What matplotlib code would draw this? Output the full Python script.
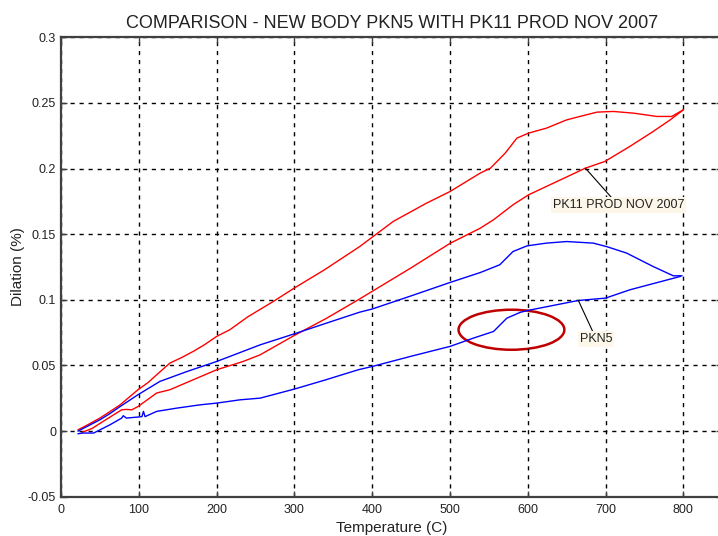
import matplotlib
matplotlib.use("Agg")
import matplotlib.pyplot as plt
from matplotlib.patches import Ellipse

plt.rcParams['font.family'] = ['Liberation Sans', 'DejaVu Sans']

# PK11 PROD NOV 2007 - heating branch (upper red)
pk11_heat_T = [22, 35, 50, 62, 76, 88, 99, 112, 123, 140, 155, 170, 185, 200, 217, 240, 273, 300,
               339, 384, 427, 470, 500, 539, 552, 571, 586, 601, 624, 650, 667, 689, 710, 736,
               766, 785, 800]
pk11_heat_D = [0.001, 0.005, 0.0099, 0.0145, 0.020, 0.026, 0.0315, 0.037, 0.0429, 0.0518, 0.056,
               0.0607, 0.066, 0.0721, 0.0772, 0.087, 0.0988, 0.109, 0.123, 0.1406, 0.1597, 0.1737,
               0.1825, 0.1966, 0.2003, 0.2118, 0.2232, 0.227, 0.2308, 0.2371, 0.2397, 0.243,
               0.2435, 0.2422, 0.2397, 0.2397, 0.2448]

# PK11 PROD NOV 2007 - cooling branch (lower red)
pk11_cool_T = [800, 783, 761, 731, 699, 674, 633, 601, 581, 556, 539, 500, 449, 382, 340, 300,
               256, 234, 200, 170, 140, 123, 99, 91, 84, 78, 54, 40, 27]
pk11_cool_D = [0.2448, 0.2371, 0.2282, 0.2168, 0.2054, 0.2003, 0.1889, 0.18, 0.1724, 0.161, 0.1546,
               0.143, 0.124, 0.1, 0.0855, 0.0729, 0.0581, 0.053, 0.0467, 0.0391, 0.0315, 0.029,
               0.0187, 0.0162, 0.0165, 0.0162, 0.0073, 0.002, -0.001]

# PKN5 - heating branch (upper blue)
pkn5_heat_T = [22, 35, 50, 62, 76, 99, 127, 162, 200, 256, 300, 340, 384, 400, 450, 500, 539,
               564, 581, 599, 624, 650, 684, 701, 727, 761, 787, 798]
pkn5_heat_D = [0.0, 0.004, 0.0086, 0.013, 0.0187, 0.0277, 0.0378, 0.0454, 0.053, 0.0657, 0.0741,
               0.082, 0.0906, 0.093, 0.103, 0.1132, 0.1208, 0.1267, 0.1368, 0.1411, 0.1432,
               0.1444, 0.1432, 0.1406, 0.1356, 0.1254, 0.1183, 0.1183]

# PKN5 - cooling branch (lower blue)
pkn5_cool_T = [796, 731, 700, 665, 600, 590, 573, 556, 530, 500, 450, 400, 382, 340, 300, 256,
               230, 200, 179, 149, 123, 108, 106, 104, 99, 84, 80, 78, 63, 42, 28, 22]
pkn5_cool_D = [0.1178, 0.1076, 0.1013, 0.0995, 0.0919, 0.0904, 0.086, 0.0759, 0.0708, 0.0645,
               0.057, 0.0492, 0.0467, 0.039, 0.032, 0.0251, 0.0238, 0.0213, 0.02, 0.0175, 0.015,
               0.011, 0.015, 0.011, 0.0107, 0.0099, 0.0117, 0.0099, 0.0048, -0.0015, -0.0015, -0.002]

title = "COMPARISON - NEW BODY PKN5 WITH PK11 PROD NOV 2007"
x_ticks = [0, 100, 200, 300, 400, 500, 600, 700, 800]
y_ticks = [-0.05, 0, 0.05, 0.1, 0.15, 0.2, 0.25, 0.3]
y_tick_labels = ["-0.05", "0", "0.05", "0.1", "0.15", "0.2", "0.25", "0.3"]

fig = plt.figure(figsize=(7.18, 5.36), dpi=100)
ax = fig.add_axes([61 / 718, (536 - 496.7) / 536, 661.3 / 718, (496.7 - 37.3) / 536])

ax.plot(pk11_heat_T, pk11_heat_D, color='#ff0000', lw=1.0)
ax.plot(pk11_cool_T, pk11_cool_D, color='#ff0000', lw=1.0)
ax.plot(pkn5_heat_T, pkn5_heat_D, color='#0000ff', lw=1.0)
ax.plot(pkn5_cool_T, pkn5_cool_D, color='#0000ff', lw=1.0)

ax.set_xlim(0, 850)
ax.set_ylim(-0.05, 0.3)
ax.set_xticks(x_ticks)
ax.set_yticks(y_ticks)
ax.set_yticklabels(y_tick_labels)
ax.tick_params(direction='in', length=4, width=1, labelsize=9, colors='#404040',
               labelcolor='#222222', top=True, right=True)
ax.tick_params(axis='x', pad=5)
ax.grid(True, color='black', linestyle=(0, (3, 3.5)), linewidth=1.0)
for s in ax.spines.values():
    s.set_color('#404040')
    s.set_linewidth(1.6)

ax.set_title(title, fontsize=13, color='#222222', pad=7)
ax.set_xlabel("Temperature (C)", fontsize=11, color='#222222', labelpad=4)
ax.set_ylabel("Dilation (%)", fontsize=11, color='#222222', labelpad=2)

bbox = dict(boxstyle='square,pad=0.15', fc='#fdf7ea', ec='none')
ax.annotate("PK11 PROD NOV 2007", xy=(674, 0.2003), xytext=(632, 0.172),
            fontsize=9, color='#222222', va='center', ha='left', bbox=bbox,
            arrowprops=dict(arrowstyle='-', color='black', lw=0.8, shrinkA=0, shrinkB=0))
ax.annotate("PKN5", xy=(665, 0.0995), xytext=(667, 0.0702),
            fontsize=9, color='#222222', va='center', ha='left', bbox=bbox,
            arrowprops=dict(arrowstyle='-', color='black', lw=0.8, shrinkA=0, shrinkB=0))

ax.add_patch(Ellipse((579, 0.0772), 136, 0.0305, fill=False, ec='#c00000', lw=1.8))

fig.savefig("out.png", dpi=100)
